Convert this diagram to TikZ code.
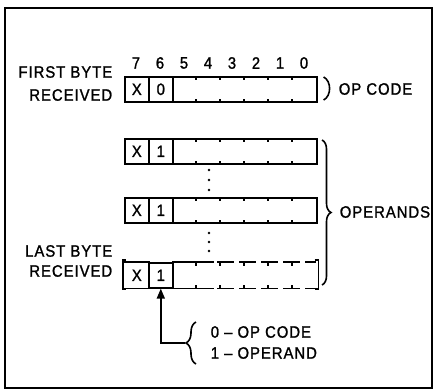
\documentclass[tikz,border=0pt]{standalone}
\usepackage{fontspec}
\setmainfont[FakeBold=1.3,FakeStretch=0.9,LetterSpace=6]{Liberation Sans}
\usetikzlibrary{arrows.meta,decorations.pathreplacing,calc}
\begin{document}
\begin{tikzpicture}[x=1pt,y=-1pt,line width=1.6pt,
  txt/.style={font=\fontsize{16.5}{18}\selectfont,inner sep=0pt},
  cell/.style={draw,minimum width=24pt,minimum height=25pt,inner sep=0pt,anchor=north west,font=\fontsize{16.5}{18}\selectfont},
  rest/.style={draw,minimum width=144pt,minimum height=25pt,inner sep=0pt,anchor=north west},
  tick/.style={line width=1.2pt},
  dot/.style={circle,fill,inner sep=0pt,minimum size=2.8pt}]
\useasboundingbox (0,0) rectangle (434,391);
\fill[white] (0,0) rectangle (434,391);
\draw[line width=1.8pt] (5,8) rectangle (432,388);

% bit numbers
\foreach \b [count=\i from 0] in {7,6,5,4,3,2,1,0}
  \node[txt] (bit\b) at (136+24*\i,63) {\b};

% row 1
\node[cell] (r1x) at (124,76) {X};
\node[cell] (r1b) at (148,76) {0};
\node[rest] (r1r) at (172,76) {};
% row 2
\node[cell] (r2x) at (124,138) {X};
\node[cell] (r2b) at (148,138) {1};
\node[rest] (r2r) at (172,138) {};
% row 3
\node[cell] (r3x) at (124,197) {X};
\node[cell] (r3b) at (148,197) {1};
\node[rest] (r3r) at (172,197) {};
% row 4 (last)
\node[cell,draw=none] (r4x) at (124,262) {X};
\node[cell] (r4b) at (148,262) {1};
\node[rest,draw=none] (r4r) at (172,262) {};
\draw (r4x.north west) -- (r4x.north east);
\draw (r4x.south west) -- (r4x.south east);

\foreach \r in {r1r,r2r,r3r,r4r}
  \foreach \k in {1,...,5}{
    \draw[tick] ($(\r.north west)+(24*\k,0)$) -- ++(0,4);
    \draw[tick] ($(\r.south west)+(24*\k,0)$) -- ++(0,-4);
  }

% last row open lines and brackets
\draw (r4r.north west) -- ++(42,0);
\draw (r4r.south west) -- ++(42,0);
\draw[dash pattern=on 17pt off 5pt] ($(r4r.north west)+(45,0)$) -- ($(r4r.north east)+(-2,0)$);
\draw[dash pattern=on 17pt off 5pt] ($(r4r.south west)+(45,0)$) -- ($(r4r.south east)+(-2,0)$);
\draw ($(r4x.north west)+(2,-2)$) -- ++(-3,0) -- ++(0,29) -- ++(3,0);
\draw ($(r4r.north east)+(-3,-2)$) -- ++(4,0) -- ++(0,29) -- ++(-4,0);

% dots
\foreach \y [count=\j] in {170,180,190} \node[dot] (da\j) at (209,\y) {};
\foreach \y [count=\j] in {233,242,251} \node[dot] (db\j) at (209,\y) {};

% left labels
\node[txt,anchor=east] (first1) at (113,72) {FIRST BYTE};
\node[txt,anchor=east] (first2) at (113,95) {RECEIVED};
\node[txt,anchor=east] (last1) at (113,251) {LAST BYTE};
\node[txt,anchor=east] (last2) at (113,271) {RECEIVED};

% op code paren
\draw (r1r.north east) ++(6,1) coordinate (pa) .. controls +(8,4) and +(8,-4) .. ++(0,23) coordinate (pb);
\node[txt,anchor=west] (opcode) at (338,89) {OP CODE};

% operands brace
\draw[decorate,decoration={brace,amplitude=9pt}] (322,140) -- (322,285);
\coordinate (optip) at (331,212);
\node[txt,anchor=west] (operands) at (339,212) {OPERANDS};

% legend
\draw[decorate,decoration={brace,amplitude=10pt}] (196,364) -- (196,322);
\coordinate (legtip) at (185,343);
\draw[-{Triangle[length=10pt,width=8pt]}] (legtip) -| (r4b.south);
\node[txt,anchor=west] (leg0) at (210,332) {0 – OP CODE};
\node[txt,anchor=west] (leg1) at (210,353) {1 – OPERAND};
\end{tikzpicture}
\end{document}
